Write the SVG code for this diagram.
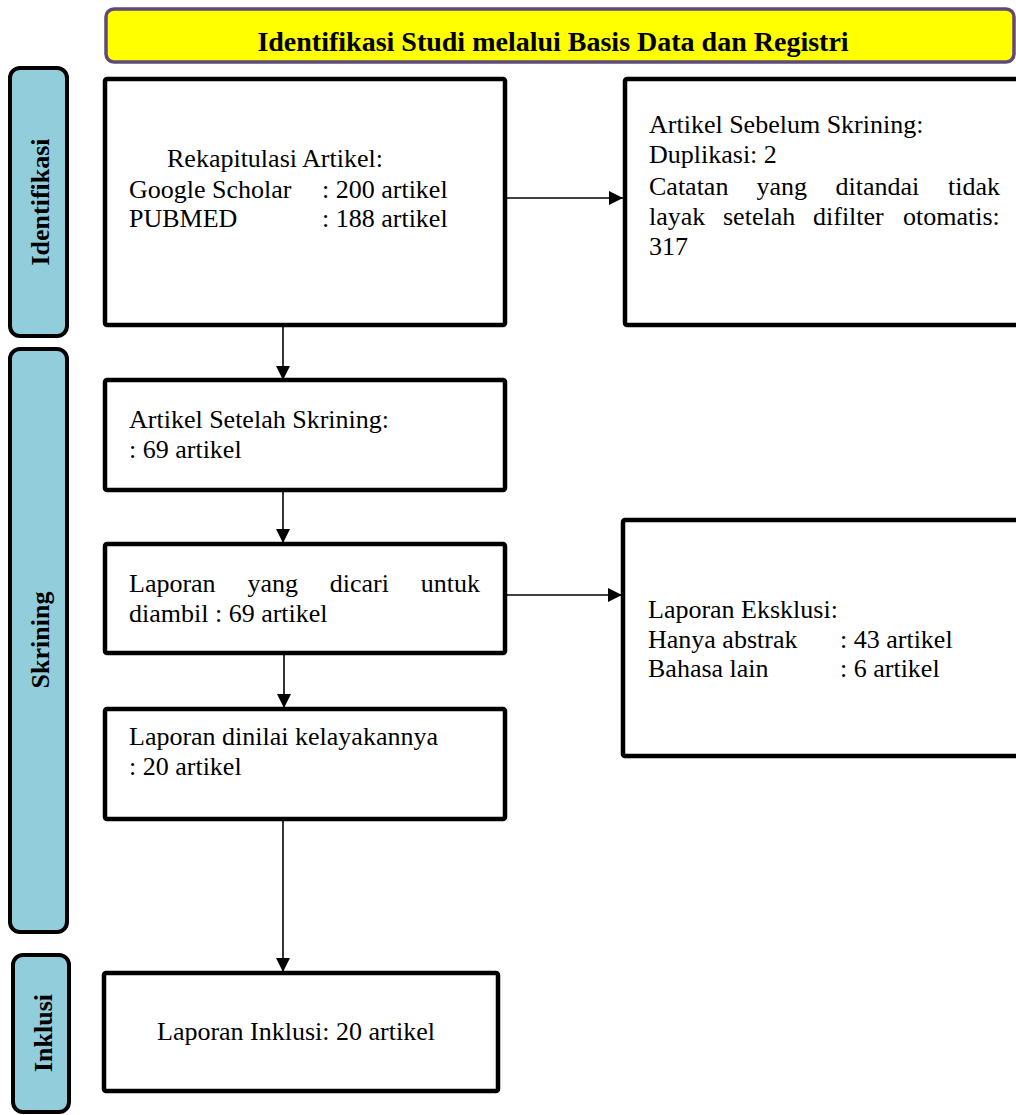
<svg xmlns="http://www.w3.org/2000/svg" width="1016" height="1115" viewBox="0 0 1016 1115">
<defs>
<style>
.bar{fill:#92CDDC;stroke:#000;stroke-width:4}
.box{fill:#fff;stroke:#000;stroke-width:4.5}
.t{font-family:"Liberation Serif","Times New Roman",serif;font-size:26px;fill:#000}
.b{font-family:"Liberation Serif","Times New Roman",serif;font-size:26px;font-weight:bold;fill:#000}
.c{stroke:#000;stroke-width:1.6;fill:none}
</style>
<marker id="ah" markerUnits="userSpaceOnUse" markerWidth="14" markerHeight="14" viewBox="0 0 14 14" refX="14" refY="7" orient="auto">
<path d="M0,0 L14,7 L0,14 Z" fill="#000"/>
</marker>
</defs>
<rect width="1016" height="1115" fill="#fff"/>

<g id="title">
<rect x="106" y="9" width="908" height="53" rx="8" fill="#FFFF00" stroke="#604A7B" stroke-width="3.5"/>
<text class="b" x="553" y="51" text-anchor="middle" style="font-size:28px">Identifikasi Studi melalui Basis Data dan Registri</text>
</g>

<g id="bar-identifikasi">
<rect class="bar" x="10" y="68" width="57" height="268" rx="10"/>
<text class="b" transform="translate(49,202) rotate(-90)" text-anchor="middle">Identifikasi</text>
</g>
<g id="bar-skrining">
<rect class="bar" x="10" y="349" width="57" height="583" rx="10"/>
<text class="b" transform="translate(49,640) rotate(-90)" text-anchor="middle">Skrining</text>
</g>
<g id="bar-inklusi">
<rect class="bar" x="13" y="955" width="56" height="157" rx="10"/>
<text class="b" transform="translate(52,1033) rotate(-90)" text-anchor="middle">Inklusi</text>
</g>

<g id="node-rekapitulasi">
<rect class="box" x="105" y="79" width="400" height="246" rx="2"/>
<text class="t" x="167" y="167">Rekapitulasi Artikel:</text>
<text class="t" y="198"><tspan x="129">Google Scholar</tspan><tspan x="322">: 200 artikel</tspan></text>
<text class="t" y="227"><tspan x="129">PUBMED</tspan><tspan x="322">: 188 artikel</tspan></text>
</g>

<g id="node-sebelum">
<rect class="box" x="625" y="79" width="420" height="246" rx="2"/>
<text class="t" x="649" y="133">Artikel Sebelum Skrining:</text>
<text class="t" x="649" y="163">Duplikasi: 2</text>
<text class="t" y="195"><tspan x="649">Catatan</tspan><tspan x="756.5">yang</tspan><tspan x="835.5">ditandai</tspan><tspan x="948">tidak</tspan></text>
<text class="t" y="225"><tspan x="649">layak</tspan><tspan x="723">setelah</tspan><tspan x="813">difilter</tspan><tspan x="903">otomatis:</tspan></text>
<text class="t" x="649" y="255">317</text>
</g>

<g id="node-setelah">
<rect class="box" x="105" y="380" width="400" height="110" rx="2"/>
<text class="t" x="129" y="428">Artikel Setelah Skrining:</text>
<text class="t" x="129" y="458">: 69 artikel</text>
</g>

<g id="node-dicari">
<rect class="box" x="105" y="544" width="400" height="109" rx="2"/>
<text class="t" y="592"><tspan x="129">Laporan</tspan><tspan x="247.4">yang</tspan><tspan x="329.7">dicari</tspan><tspan x="420.7">untuk</tspan></text>
<text class="t" x="129" y="622">diambil : 69 artikel</text>
</g>

<g id="node-eksklusi">
<rect class="box" x="623" y="520" width="420" height="236" rx="2"/>
<text class="t" x="648" y="618">Laporan Eksklusi:</text>
<text class="t" y="648"><tspan x="648">Hanya abstrak</tspan><tspan x="840">: 43 artikel</tspan></text>
<text class="t" y="677"><tspan x="648">Bahasa lain</tspan><tspan x="840">: 6 artikel</tspan></text>
</g>

<g id="node-dinilai">
<rect class="box" x="105" y="709" width="400" height="110" rx="2"/>
<text class="t" x="129" y="745">Laporan dinilai kelayakannya</text>
<text class="t" x="129" y="775">: 20 artikel</text>
</g>

<g id="node-inklusi">
<rect class="box" x="104" y="973" width="394" height="118" rx="2"/>
<text class="t" x="157" y="1040">Laporan Inklusi: 20 artikel</text>
</g>

<g id="connectors">
<line class="c" x1="283" y1="325" x2="283" y2="380" marker-end="url(#ah)"/>
<line class="c" x1="283" y1="490" x2="283" y2="543" marker-end="url(#ah)"/>
<line class="c" x1="284" y1="653" x2="284" y2="708" marker-end="url(#ah)"/>
<line class="c" x1="283" y1="819" x2="283" y2="972" marker-end="url(#ah)"/>
<line class="c" x1="505" y1="198" x2="623" y2="198" marker-end="url(#ah)"/>
<line class="c" x1="505" y1="595" x2="622" y2="595" marker-end="url(#ah)"/>
</g>
</svg>
